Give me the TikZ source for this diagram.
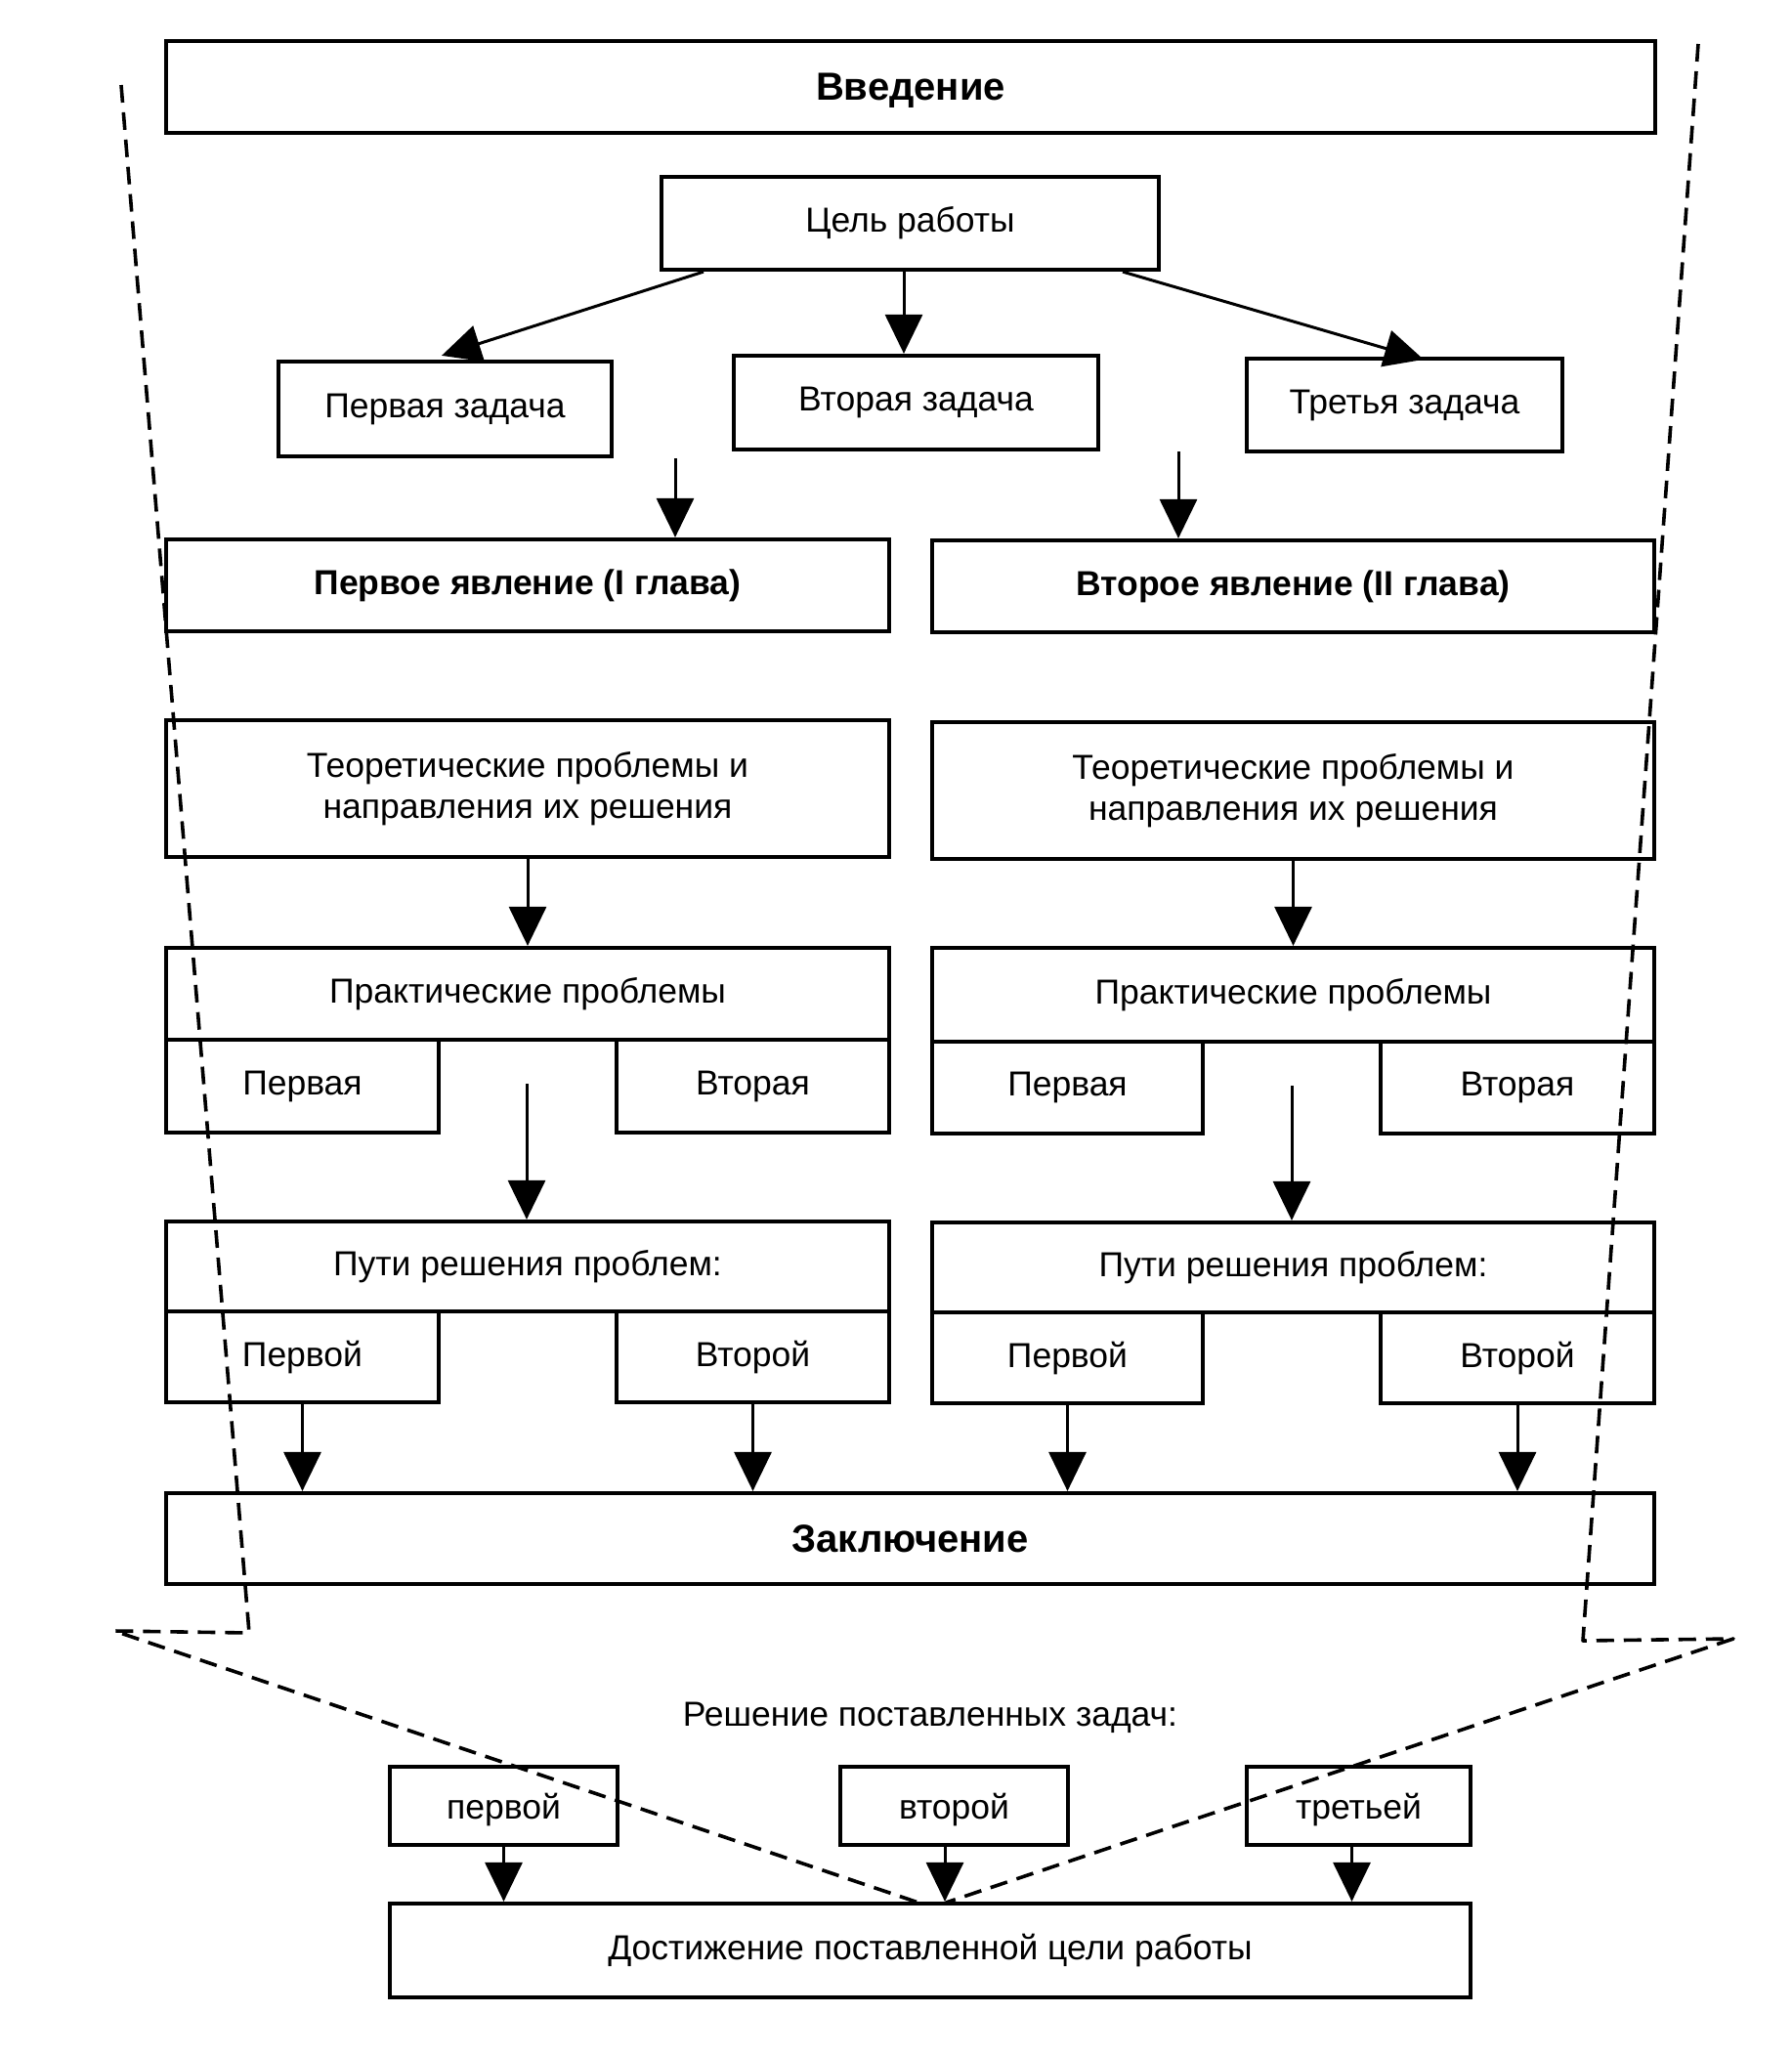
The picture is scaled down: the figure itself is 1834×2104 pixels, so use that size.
\documentclass[tikz,border=0pt]{standalone}
\usepackage{fontspec}
\setmainfont{Liberation Sans}
\usetikzlibrary{arrows.meta}
\begin{document}
\begin{tikzpicture}[x=0.5pt,y=-0.5pt,
  box/.style={draw, line width=2.1pt, rectangle, inner sep=0pt, align=center, font=\fontsize{17.75}{21}\selectfont},
  sbox/.style={box, text depth=0pt},
  bbox/.style={box, font=\fontsize{17.75}{21}\selectfont\bfseries},
  tbox/.style={box, text depth=0pt, font=\fontsize{20}{24}\selectfont\bfseries},
  arr/.style={line width=1.5pt, -{Triangle[length=20pt,width=19pt]}},
  dsh/.style={line width=1.8pt, dash pattern=on 9pt off 5pt, line join=round}]
\useasboundingbox (0,0) rectangle (1834,2104);

% top part
\node[tbox, minimum width=762pt, minimum height=47pt] (intro) at (932,89) {Введение};
\node[box, minimum width=254.5pt, minimum height=47.5pt] (goal) at (931.5,228.5) {Цель работы};
\node[box, minimum width=170.5pt, minimum height=48.5pt] (t1) at (455.5,418.5) {Первая задача};
\node[box, minimum width=186.5pt, minimum height=48pt] (t2) at (937.5,412) {Вторая задача};
\node[box, minimum width=161.5pt, minimum height=47.5pt] (t3) at (1437.5,414.5) {Третья задача};

\node[bbox, minimum width=370pt, minimum height=47pt] (ph1) at (540,599) {Первое явление (I глава)};
\node[bbox, minimum width=369.5pt, minimum height=47pt] (ph2) at (1323.5,600) {Второе явление (II глава)};

\node[box, minimum width=370pt, minimum height=70pt] (th1) at (540,807) {Теоретические проблемы и\\направления их решения};
\node[box, minimum width=369.5pt, minimum height=70pt] (th2) at (1323.5,809) {Теоретические проблемы и\\направления их решения};

\node[box, minimum width=370pt, minimum height=47pt] (pr1) at (540,1017) {Практические проблемы};
\node[box, minimum width=369.5pt, minimum height=48pt] (pr2) at (1323.5,1018) {Практические проблемы};
\node[box, minimum width=139.5pt, minimum height=47.5pt] (pr1a) at (309.5,1111.5) {Первая};
\node[box, minimum width=139.5pt, minimum height=47.5pt] (pr1b) at (770.5,1111.5) {Вторая};
\node[box, minimum width=138.5pt, minimum height=47pt] (pr2a) at (1092.5,1113) {Первая};
\node[box, minimum width=140pt, minimum height=47pt] (pr2b) at (1553,1113) {Вторая};

\node[box, minimum width=370pt, minimum height=46pt] (pu1) at (540,1296) {Пути решения проблем:};
\node[box, minimum width=369.5pt, minimum height=46pt] (pu2) at (1323.5,1297) {Пути решения проблем:};
\node[box, minimum width=139.5pt, minimum height=46.5pt] (pu1a) at (309.5,1388.5) {Первой};
\node[box, minimum width=139.5pt, minimum height=46.5pt] (pu1b) at (770.5,1388.5) {Второй};
\node[box, minimum width=138.5pt, minimum height=46.5pt] (pu2a) at (1092.5,1389.5) {Первой};
\node[box, minimum width=140pt, minimum height=46.5pt] (pu2b) at (1553,1389.5) {Второй};

\node[tbox, minimum width=761.5pt, minimum height=46.5pt] (concl) at (931.5,1574.5) {Заключение};

% bottom part
\node[font=\fontsize{17.75}{21}\selectfont, inner sep=0pt] (resh) at (952,1758) {Решение поставленных задач:};
\node[sbox, minimum width=116.5pt, minimum height=40pt] (r1) at (515.5,1848) {первой};
\node[sbox, minimum width=116.5pt, minimum height=40pt] (r2) at (976.5,1848) {второй};
\node[sbox, minimum width=114.5pt, minimum height=40pt] (r3) at (1390.5,1848) {третьей};
\node[box, minimum width=553pt, minimum height=48pt] (ach) at (952,1996) {Достижение поставленной цели работы};

% arrows top
\draw[arr] ([xshift=-105.75pt]goal.south) -- ([xshift=-1.75pt,yshift=2pt]t1.north);
\draw[arr] ([xshift=-3.25pt]goal.south) -- ([xshift=-3.25pt]goal.south |- t2.north);
\draw[arr] ([xshift=108.75pt]goal.south) -- ([xshift=9.75pt,yshift=-1.5pt]t3.north);

\coordinate (s1) at (691,469);
\coordinate (s2) at (1206,462);
\draw[arr] (s1) -- (s1 |- ph1.north);
\draw[arr] (s2) -- (s2 |- ph2.north);

\draw[arr] (th1.south) -- (pr1.north);
\draw[arr] (th2.south) -- (pr2.north);

\coordinate (s3) at (539,1109);
\coordinate (s4) at (1322,1111);
\draw[arr] (s3) -- (s3 |- pu1.north);
\draw[arr] (s4) -- (s4 |- pu2.north);

\draw[arr] (pu1a.south) -- (pu1a.south |- concl.north);
\draw[arr] (pu1b.south) -- (pu1b.south |- concl.north);
\draw[arr] (pu2a.south) -- (pu2a.south |- concl.north);
\draw[arr] (pu2b.south) -- (pu2b.south |- concl.north);

% arrows bottom
\draw[arr] (r1.south) -- (r1.south |- ach.north);
\draw[arr] ([xshift=-4.75pt]r2.south) -- ([xshift=-4.75pt]r2.south |- ach.north);
\draw[arr] ([xshift=-3.5pt]r3.south) -- ([xshift=-3.5pt]r3.south |- ach.north);

% dashed funnel
\draw[dsh] (124,87) -- (255,1671) -- (117,1669) -- (940,1947);
\draw[dsh] (1738,45) -- (1620,1679) -- (1774,1677) -- (968,1947);
\end{tikzpicture}
\end{document}
